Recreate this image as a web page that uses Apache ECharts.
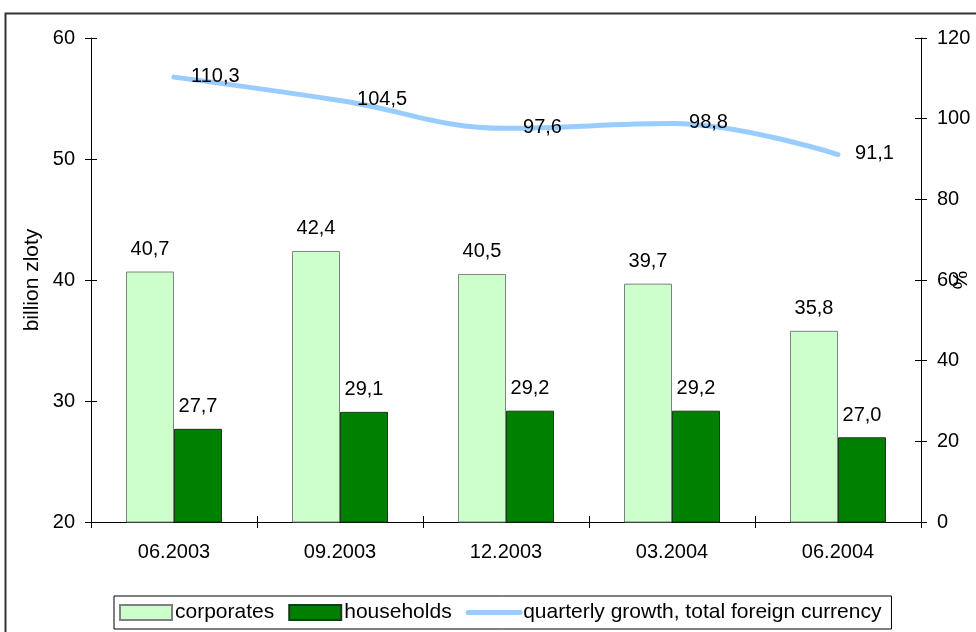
<!DOCTYPE html>
<html>
<head>
<meta charset="utf-8">
<script src="https://cdn.jsdelivr.net/npm/echarts@6/dist/echarts.min.js"></script>
<style>html,body{margin:0;padding:0;background:#fff;}#c{width:976px;height:632px;}</style>
</head>
<body>
<div id="c"></div>
<script>
var categories = ['06.2003', '09.2003', '12.2003', '03.2004', '06.2004'];
var corporates = [40.7, 42.4, 40.5, 39.7, 35.8];
var households = [27.7, 29.1, 29.2, 29.2, 27.0];
var growth = [110.3, 104.5, 97.6, 98.8, 91.1];
var leftTicks = {min: 20, max: 60, interval: 10};
var rightTicks = {min: 0, max: 120, interval: 20};

var FONT = 'Liberation Sans, Arial, sans-serif';
var fmt = function (p) { return p.value.toFixed(1).replace('.', ','); };

var chart = echarts.init(document.getElementById('c'), null, {renderer: 'canvas'});
chart.setOption({
  animation: false,
  backgroundColor: '#fff',
  textStyle: {fontFamily: FONT},
  graphic: [{
    type: 'rect', left: 3, top: 11, silent: true,
    shape: {x: 0, y: 0, width: 1100, height: 800},
    style: {fill: 'none', stroke: '#333', lineWidth: 2}
  }],
  grid: {left: 91, right: 55, top: 38, bottom: 110, containLabel: false, outerBoundsMode: 'none'},
  legend: {
    left: 114, top: 596,
    padding: [6, 10, 6, 5],
    borderColor: '#000', borderWidth: 1,
    itemWidth: 52, itemHeight: 15, itemGap: 14,
    textStyle: {fontSize: 21, color: '#000', fontFamily: FONT, padding: [0, 0, 0, -2]},
    data: [
      {name: 'corporates', icon: 'rect'},
      {name: 'households', icon: 'rect'},
      {name: 'quarterly growth, total foreign currency', itemStyle: {opacity: 0},
       lineStyle: {width: 5, cap: 'round', color: '#99CCFF'}}
    ]
  },
  xAxis: [{
    type: 'category', data: categories, boundaryGap: true,
    axisLine: {lineStyle: {color: '#000', width: 1}},
    axisTick: {show: true, length: 6, lineStyle: {color: '#000'}},
    axisLabel: {fontSize: 20, color: '#000', margin: 20, fontFamily: FONT},
    splitLine: {show: false}
  }, {
    type: 'category', data: categories, boundaryGap: true, position: 'bottom',
    axisLine: {show: false},
    axisTick: {show: true, inside: true, length: 6, lineStyle: {color: '#000'}},
    axisLabel: {show: false}, splitLine: {show: false}
  }],
  yAxis: [{
    type: 'value', position: 'left', min: leftTicks.min, max: leftTicks.max, interval: leftTicks.interval,
    name: 'billion zloty', nameLocation: 'middle', nameGap: 48, nameRotate: 90, nameMoveOverlap: false,
    nameTextStyle: {fontSize: 21, color: '#000', fontFamily: FONT},
    axisLine: {show: true, lineStyle: {color: '#000'}},
    axisTick: {show: true, length: 6, lineStyle: {color: '#000'}},
    axisLabel: {fontSize: 20, color: '#000', margin: 16, fontFamily: FONT},
    splitLine: {show: false}
  }, {
    type: 'value', position: 'right', min: rightTicks.min, max: rightTicks.max, interval: rightTicks.interval,
    name: '%', nameLocation: 'middle', nameGap: 27, nameRotate: -90, nameMoveOverlap: false,
    nameTextStyle: {fontSize: 21, color: '#000', fontFamily: FONT},
    axisLine: {show: true, lineStyle: {color: '#000'}},
    axisTick: {show: true, length: 6, lineStyle: {color: '#000'}},
    axisLabel: {fontSize: 20, color: '#000', margin: 16, fontFamily: FONT},
    splitLine: {show: false}
  }, {
    type: 'value', position: 'left', min: leftTicks.min, max: leftTicks.max, interval: leftTicks.interval,
    axisLine: {show: false}, axisTick: {show: true, inside: true, length: 6, lineStyle: {color: '#000'}},
    axisLabel: {show: false}, splitLine: {show: false}
  }, {
    type: 'value', position: 'right', min: rightTicks.min, max: rightTicks.max, interval: rightTicks.interval,
    axisLine: {show: false}, axisTick: {show: true, inside: true, length: 6, lineStyle: {color: '#000'}},
    axisLabel: {show: false}, splitLine: {show: false}
  }],
  series: [{
    name: 'corporates', type: 'bar', data: corporates, barWidth: 48, barGap: '0%',
    itemStyle: {color: '#CCFFCC', borderColor: '#808080', borderWidth: 1},
    label: {show: true, position: 'top', distance: 12, fontSize: 20, color: '#000', fontFamily: FONT, formatter: fmt}
  }, {
    name: 'households', type: 'bar', data: households, barWidth: 48, barGap: '0%',
    itemStyle: {color: '#008000', borderColor: '#1a3a1a', borderWidth: 1},
    label: {show: true, position: 'top', distance: 12, fontSize: 20, color: '#000', fontFamily: FONT, formatter: fmt}
  }, {
    name: 'quarterly growth, total foreign currency', type: 'line', yAxisIndex: 1, data: growth,
    smooth: 0.4, symbol: 'circle', symbolSize: 0.1, showSymbol: true,
    lineStyle: {color: '#99CCFF', width: 5, cap: 'round'},
    itemStyle: {color: '#99CCFF'},
    label: {show: true, position: 'right', distance: 17, fontSize: 20, color: '#000', fontFamily: FONT, formatter: fmt, offset: [0, -1]},
    z: 5
  }]
});
</script>
</body>
</html>
